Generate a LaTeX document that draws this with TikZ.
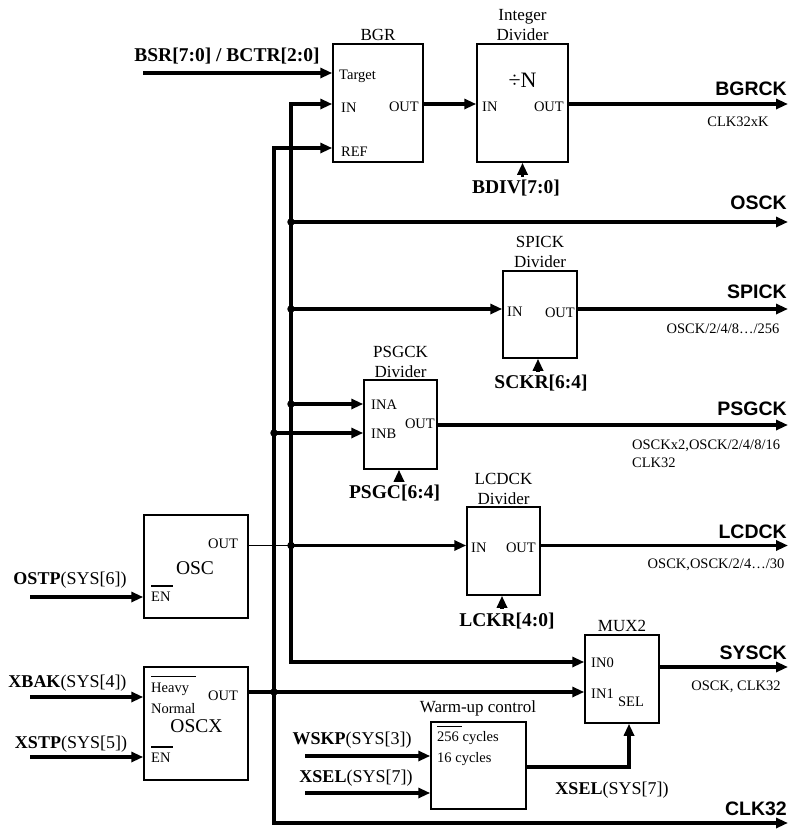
\documentclass[tikz,border=0pt]{standalone}
\usepackage{fontspec}
\setmainfont{Liberation Serif}
\setsansfont{Liberation Sans}
\usetikzlibrary{arrows.meta}
\tikzset{
  box/.style={draw, line width=1.5pt, inner sep=0pt},
  wire/.style={line width=3.2pt},
  thinwire/.style={line width=1.3pt},
  tip/.style={-{Triangle[length=12pt,width=10pt]}},
  jdot/.style={circle, fill, inner sep=0pt, minimum size=7.5pt},
  port/.style={inner sep=0pt, font=\fontsize{14.5}{15}\selectfont},
  ttl/.style={inner sep=0pt, align=center, font=\fontsize{17}{20}\selectfont},
  big/.style={inner sep=0pt, font=\fontsize{19.5}{20}\selectfont},
  sig/.style={inner sep=0pt, font=\fontsize{19.5}{20}\selectfont\bfseries},
  ctl/.style={inner sep=0pt, font=\fontsize{18}{20}\selectfont},
  outlbl/.style={inner sep=0pt, anchor=east, font=\fontsize{19.5}{20}\selectfont\sffamily\bfseries},
  note/.style={inner sep=0pt, font=\fontsize{14.5}{18}\selectfont},
  ovl/.style={line width=1.3pt},
}
\begin{document}
\begin{tikzpicture}[x=1pt,y=-1pt]
\useasboundingbox (0,0) rectangle (788,830);

% ---------- boxes
\node[box, minimum width=90pt, minimum height=118pt] (bgr) at (378,103) {};
\node[box, minimum width=91pt, minimum height=118pt] (div) at (522.5,103) {};
\node[box, minimum width=74pt, minimum height=87pt] (spk) at (540,314.5) {};
\node[box, minimum width=73pt, minimum height=89pt] (psg) at (400.5,424.5) {};
\node[box, minimum width=73pt, minimum height=88pt] (lcd) at (503.5,551) {};
\node[box, minimum width=104pt, minimum height=103pt] (osc) at (196,566.5) {};
\node[box, minimum width=104pt, minimum height=113pt] (oscx) at (196,723.5) {};
\node[box, minimum width=74pt, minimum height=88pt] (mux) at (622,679) {};
\node[box, minimum width=95pt, minimum height=87pt] (wu) at (478.5,765.5) {};

% ---------- titles
\node[ttl] (bgrT) at (378,35) {BGR};
\node[ttl] (divT) at (522.5,25) {Integer\\Divider};
\node[ttl] (spkT) at (540,252) {SPICK\\Divider};
\node[ttl] (psgT) at (400.5,361.5) {PSGCK\\Divider};
\node[ttl] (lcdT) at (503.5,488.5) {LCDCK\\Divider};
\node[ttl] (muxT) at (622,626) {MUX2};
\node[ttl] (wuT) at (478,708) {Warm-up control};

% ---------- port labels
\node[port,anchor=west] (pTgt) at (339,76) {Target};
\node[port,anchor=west] (pBin) at (341,108) {IN};
\node[port,anchor=west] (pRef) at (341,152) {REF};
\node[port,anchor=east] (pBout) at (419,107) {OUT};
\node[inner sep=0pt, font=\fontsize{22}{22}\selectfont] (divN) at (522.5,80) {÷N};
\node[port,anchor=west] (pDin) at (482,107) {IN};
\node[port,anchor=east] (pDout) at (564,107) {OUT};
\node[port,anchor=west] (pSin) at (507,312) {IN};
\node[port,anchor=east] (pSout) at (575,313) {OUT};
\node[port,anchor=west] (pINA) at (371,405) {INA};
\node[port,anchor=west] (pINB) at (371,434) {INB};
\node[port,anchor=east] (pPout) at (435,424) {OUT};
\node[port,anchor=west] (pLin) at (471,548) {IN};
\node[port,anchor=east] (pLout) at (536,548) {OUT};
\node[port] (pOout) at (223,544) {OUT};
\node[big] (oscL) at (195,568) {OSC};
\node[port,anchor=west] (pOEN) at (151,597) {EN};
\node[port,anchor=west] (pHeavy) at (151,689) {Heavy};
\node[port,anchor=west] (pNormal) at (151,709) {Normal};
\node[big] (oscxL) at (196.5,726) {OSCX};
\node[port] (pXout) at (223,696) {OUT};
\node[port,anchor=west] (pXEN) at (151,758) {EN};
\node[port,anchor=west] (pIN0) at (591,663) {IN0};
\node[port,anchor=west] (pIN1) at (591,694) {IN1};
\node[port] (pSEL) at (631,702) {SEL};
\node[port,anchor=west] (p256) at (437,738) {256 cycles};
\node[port,anchor=west] (p16) at (437,759) {16 cycles};

% overlines
\draw[ovl] ([yshift=6pt]pOEN.north west) -- ++(22,0);
\draw[ovl] ([yshift=6pt]pXEN.north west) -- ++(22,0);
\draw[ovl] ([yshift=6pt]pHeavy.north west) -- ++(45,0);
\draw[ovl] ([yshift=4.5pt]p256.north west) -- ++(25,0);

% ---------- control labels
\node[sig] (bsr) at (227,56) {BSR[7:0] / BCTR[2:0]};
\node[sig] (bdiv) at (516,188) {BDIV[7:0]};
\node[sig] (sckr) at (541,383) {SCKR[6:4]};
\node[sig] (psgc) at (394.5,493) {PSGC[6:4]};
\node[sig] (lckr) at (507,621) {LCKR[4:0]};
\node[ctl] (ostp) at (70,580) {\textbf{OSTP}(SYS[6])};
\node[ctl] (xbak) at (67.5,683) {\textbf{XBAK}(SYS[4])};
\node[ctl] (xstp) at (71,744) {\textbf{XSTP}(SYS[5])};
\node[ctl] (wskp) at (352,740) {\textbf{WSKP}(SYS[3])};
\node[ctl] (xselA) at (356,778) {\textbf{XSEL}(SYS[7])};
\node[ctl] (xselB) at (612,790) {\textbf{XSEL}(SYS[7])};

% ---------- output labels
\node[outlbl] (lBGRCK) at (787,89) {BGRCK};
\node[outlbl] (lOSCK) at (787,203) {OSCK};
\node[outlbl] (lSPICK) at (787,292) {SPICK};
\node[outlbl] (lPSGCK) at (787,409) {PSGCK};
\node[outlbl] (lLCDCK) at (787,532) {LCDCK};
\node[outlbl] (lSYSCK) at (787,653) {SYSCK};
\node[outlbl] (lCLK32) at (787,809) {CLK32};

\node[note] (nBGR) at (738,122) {CLK32xK};
\node[note] (nSPI) at (723,329) {OSCK/2/4/8…/256};
\node[note, anchor=west, align=left] (nPSG) at (632,454) {OSCKx2,OSCK/2/4/8/16\\CLK32};
\node[note] (nLCD) at (716,565) {OSCK,OSCK/2/4…/30};
\node[note] (nSYS) at (736,687) {OSCK, CLK32};

% ---------- coordinates
\coordinate (R) at (788,0);
\coordinate (xL) at (30,0);
\coordinate (xW) at (305,0);
\coordinate (xSel) at (629,0);
\coordinate (aTop) at (291,104);
\coordinate (aBot) at (291,662);
\coordinate (bTop) at (274,148);
\coordinate (bBot) at (274,823);
\coordinate (tgtS) at (143,73);
\coordinate (yPsg) at (0,425);
\coordinate (yMux) at (0,667);
\coordinate (yWu) at (0,767);
\coordinate (yOstp) at (0,597);
\coordinate (yXbak) at (0,697);
\coordinate (yXstp) at (0,757);
\coordinate (yWskp) at (0,756);
\coordinate (yXsel) at (0,793);

% junctions
\node[jdot] (j1) at (291,222) {};
\node[jdot] (j2) at (291,309) {};
\node[jdot] (j3) at (291,404) {};
\node[jdot] (j4) at (274,433) {};
\node[jdot] (j5) at (291,545.5) {};
\node[jdot] (j6) at (274,692) {};

% ---------- wires
\draw[wire,tip] (tgtS) -- (tgtS -| bgr.west);
\draw[wire,tip] (j5.center) -- (aTop) -- (aTop -| bgr.west);
\draw[wire,tip] (j5.center) -- (aBot) -- (aBot -| mux.west);
\draw[wire,tip] (j6.center) -- (bTop) -- (bTop -| bgr.west);
\draw[wire,tip] (j6.center) -- (bBot) -- (bBot -| R);
\draw[wire,tip] (aTop -| bgr.east) -- (aTop -| div.west);
\draw[wire,tip] (aTop -| div.east) -- (aTop -| R);
\draw[wire,tip] ([yshift=-14pt]div.south) -- (div.south);

\draw[wire,tip] (j1.center) -- (j1 -| R);
\draw[wire,tip] (j2.center) -- (j2 -| spk.west);
\draw[wire,tip] (j2 -| spk.east) -- (j2 -| R);
\draw[wire,tip] ([xshift=-2pt,yshift=-13pt]spk.south) -- ([xshift=-2pt]spk.south);
\draw[wire,tip] (j3.center) -- (j3 -| psg.west);
\draw[wire,tip] (j4.center) -- (j4 -| psg.west);
\draw[wire,tip] (psg.east |- yPsg) -- (yPsg -| R);
\draw[wire,tip] ([xshift=-1.5pt,yshift=-12pt]psg.south) -- ([xshift=-1.5pt]psg.south);

\draw[thinwire] (osc.east |- j5) -- (j5.center);
\draw[wire,tip] (j5.center) -- (j5 -| lcd.west);
\draw[wire,tip] (j5 -| lcd.east) -- (j5 -| R);
\draw[wire,tip] ([xshift=-1.5pt,yshift=-13pt]lcd.south) -- ([xshift=-1.5pt]lcd.south);

\draw[wire,tip] (oscx.east |- j6) -- (j6 -| mux.west);
\draw[wire,tip] (mux.east |- yMux) -- (yMux -| R);
\draw[wire,tip] (wu.east |- yWu) -- (xSel |- yWu) -- (xSel |- mux.south);

\draw[wire,tip] (xL |- yOstp) -- (osc.west |- yOstp);
\draw[wire,tip] (xL |- yXbak) -- (oscx.west |- yXbak);
\draw[wire,tip] (xL |- yXstp) -- (oscx.west |- yXstp);
\draw[wire,tip] (xW |- yWskp) -- (wu.west |- yWskp);
\draw[wire,tip] (xW |- yXsel) -- (wu.west |- yXsel);
\end{tikzpicture}
\end{document}
